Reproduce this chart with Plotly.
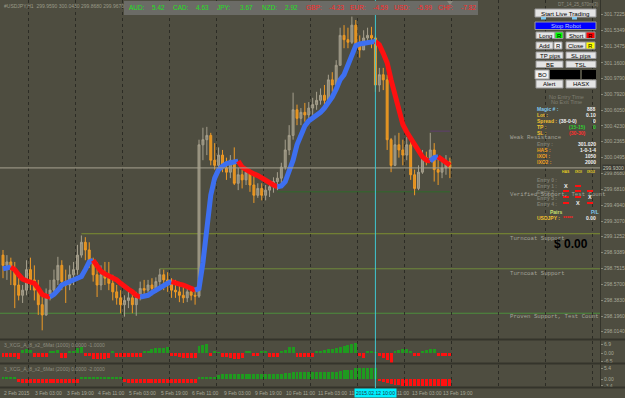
import plotly.graph_objects as go

W, H = 625, 398
BG = '#4e4d40'
FG = '#a8a898'
FONT = 'Liberation Sans'
MONO = 'Liberation Mono'

# ---------------- data ----------------
HOURS = list(range(0, 229, 2))          # 2-hour bars, trading-hour index from 2 Feb 11:00
FIRST_OPEN = 298.91
HIGH = [298.97, 298.91, 298.88, 298.83, 298.68, 298.56, 298.85, 298.88, 298.79, 298.62,
        298.44, 298.52, 298.62, 298.74, 298.89, 298.85, 298.74, 298.79, 298.83, 299.03,
        299.14, 299.12, 299.06, 298.88, 298.83, 298.79, 298.83, 298.83, 298.68, 298.56,
        298.50, 298.44, 298.54, 298.50, 298.48, 298.60, 298.62, 298.62, 298.64, 298.65,
        298.75, 298.74, 298.71, 298.64, 298.62, 298.56, 298.54, 298.52, 298.52, 298.50,
        300.26, 300.40, 300.41, 300.34, 300.22, 300.17, 300.14, 300.05, 300.08, 300.17,
        299.93, 299.91, 299.94, 299.91, 299.85, 299.75, 299.75, 299.73, 299.77, 299.82,
        299.88, 299.99, 300.26, 300.43, 300.81, 300.67, 300.63, 300.69, 300.70, 300.75,
        300.82, 300.86, 300.90, 301.02, 301.05, 301.19, 301.57, 301.60, 301.57, 301.70,
        301.66, 301.48, 301.54, 301.57, 301.58, 301.47, 301.10, 301.10, 301.02, 300.28,
        300.31, 300.34, 300.26, 300.29, 300.28, 299.91, 299.96, 300.14, 300.12, 300.34,
        300.22, 300.05, 300.02, 300.08, 300.05]
LOW = [298.64, 298.62, 298.56, 298.29, 298.38, 298.35, 298.44, 298.50, 298.38, 298.21,
       298.03, 298.20, 298.38, 298.44, 298.56, 298.50, 298.35, 298.50, 298.56, 298.68,
       298.88, 298.85, 298.76, 298.60, 298.42, 298.50, 298.56, 298.50, 298.38, 298.33,
       298.23, 298.19, 298.29, 298.23, 298.20, 298.38, 298.41, 298.47, 298.44, 298.47,
       298.52, 298.50, 298.48, 298.41, 298.41, 298.36, 298.35, 298.36, 298.38, 298.33,
       298.41, 300.02, 300.08, 299.96, 299.91, 299.93, 299.88, 299.79, 299.81, 299.73,
       299.67, 299.69, 299.73, 299.65, 299.52, 299.58, 299.55, 299.55, 299.59, 299.64,
       299.67, 299.73, 299.91, 300.08, 300.26, 300.43, 300.43, 300.47, 300.51, 300.55,
       300.61, 300.67, 300.67, 300.70, 300.82, 300.86, 301.13, 301.33, 301.33, 301.38,
       301.33, 301.22, 301.31, 301.37, 301.33, 300.82, 300.82, 300.84, 300.14, 299.88,
       299.95, 300.05, 299.96, 300.02, 299.79, 299.61, 299.67, 299.86, 299.96, 300.00,
       299.77, 299.73, 299.81, 299.85, 299.81]
CLOSE = [298.79, 298.83, 298.74, 298.56, 298.44, 298.50, 298.74, 298.62, 298.50, 298.33,
         298.21, 298.41, 298.50, 298.62, 298.79, 298.60, 298.56, 298.68, 298.74, 298.91,
         299.06, 298.97, 298.83, 298.68, 298.56, 298.68, 298.64, 298.58, 298.48, 298.41,
         298.33, 298.38, 298.41, 298.33, 298.41, 298.52, 298.50, 298.56, 298.52, 298.60,
         298.68, 298.62, 298.58, 298.50, 298.48, 298.44, 298.41, 298.48, 298.44, 298.43,
         300.20, 300.26, 300.31, 300.02, 299.96, 300.08, 299.93, 299.88, 300.02, 299.75,
         299.85, 299.79, 299.88, 299.73, 299.61, 299.69, 299.61, 299.67, 299.71, 299.77,
         299.81, 299.94, 300.14, 300.31, 300.61, 300.51, 300.58, 300.55, 300.63, 300.67,
         300.72, 300.78, 300.72, 300.96, 300.90, 301.13, 301.48, 301.43, 301.40, 301.60,
         301.37, 301.31, 301.45, 301.48, 301.45, 300.90, 301.02, 300.96, 300.26, 299.96,
         300.20, 300.14, 300.08, 300.20, 299.85, 299.69, 299.88, 300.05, 300.02, 300.14,
         299.91, 299.88, 299.93, 300.00, 299.93]
MA = [298.75, 298.76, 298.77, 298.74, 298.68, 298.63, 298.61, 298.60, 298.58, 298.52,
      298.45, 298.43, 298.42, 298.45, 298.50, 298.56, 298.58, 298.60, 298.62, 298.63,
      298.66, 298.74, 298.83, 298.85, 298.78, 298.72, 298.69, 298.67, 298.64, 298.62,
      298.58, 298.54, 298.51, 298.48, 298.44, 298.42, 298.43, 298.44, 298.47, 298.50,
      298.52, 298.56, 298.58, 298.60, 298.58, 298.57, 298.56, 298.54, 298.51, 298.50,
      298.52, 298.82, 299.26, 299.61, 299.81, 299.91, 299.95, 299.98, 299.99, 300.00,
      300.01, 299.94, 299.91, 299.88, 299.86, 299.84, 299.81, 299.78, 299.75, 299.73,
      299.71, 299.72, 299.77, 299.88, 300.02, 300.20, 300.30, 300.42, 300.48, 300.51,
      300.55, 300.58, 300.63, 300.69, 300.76, 300.85, 300.96, 301.02, 301.13, 301.26,
      301.36, 301.38, 301.39, 301.40, 301.40, 301.41, 301.37, 301.27, 301.16, 300.96,
      300.77, 300.61, 300.44, 300.35, 300.28, 300.21, 300.14, 300.06, 300.02, 300.01,
      300.05, 300.06, 300.03, 300.00, 299.96]
OSC1 = [-3, -3, -3, -3, -4.5, 2.5, 3, 2, -3, -3,
        -3, -3, 1.5, 1.5, 2, -3.5, -3.5, 1.5, 1.5, 4,
        4.5, -2.5, -2.5, -4.5, -4.5, -4.5, -4.5, -4, 1.5, -3,
        -3, -3, -3, -3, -3, -3, 1.5, 1.5, 3.5, 4,
        4, 4, 4.5, -2.5, -2.5, -3, -4, -4, -4, -4,
        5.5, 6.5, 7, -2, 1.5, 1, -3, -3, -3.5, -4.5,
        -4.5, -4, 1.5, 1.5, -2.5, -2.5, 1.5, 1.5, -3, -3,
        -3, 1.5, 2, 4.5, 5, -3, -3, -3, -3, -3,
        1.5, 1.5, 2.5, 3, 3.5, 4, 5, 5.5, 6, 7,
        7.5, -2.5, -3.5, 1.5, 1.5, 0.8, -2, -3.5, -5.5, -7.5,
        1.5, 2.5, 3, 3, 1.5, -2.5, -2.5, 1.5, 2, 3,
        3.5, -2.5, -2.5, -2.5, -2.5]
OSC2 = [0.8, 0.8, 0.8, 0.8, -1.5, -1.7, -1.7, -1.7, -1.7, -1.7,
        -1.7, -1.7, -1.7, -1.7, -1.7, -1.7, -1.7, -1.7, -1.7, -1.7,
        0.8, 0.8, 0.8, 0.8, 0.8, 0.8, 0.8, 0.8, 0.8, 0.8,
        0.8, -1.5, -1.7, -1.7, -1.7, -1.7, -1.7, -1.7, -1.7, -1.7,
        -1.7, -1.7, -1.7, -1.7, -1.7, -1.7, -1.7, -1.7, -1.7, -1.7,
        1.0, 1.0, 1.0, 1.0, 1.0, 2.2, 2.4, 2.4, 2.4, 2.4,
        2.4, 2.4, 2.4, 2.4, 2.4, 2.4, 2.4, 2.4, 2.4, 2.4,
        2.4, 2.6, 2.8, 3.0, 3.4, 3.4, 3.4, 3.4, 3.4, 3.4,
        3.4, 3.4, 3.4, 3.4, 3.4, 3.6, 3.8, 4.4, 4.4, 4.6,
        5.6, 5.6, 5.6, 5.6, 5.6, 5.6, -1.0, -1.5, -2.0, -2.5,
        -2.8, -3.0, -3.2, -3.4, -3.4, -3.4, -3.4, -3.4, -3.4, -3.4,
        -3.4, -3.4, -3.4, -3.4, -3.4]

PRICE_TICKS = [301.7225, 301.5349, 301.3475, 301.1600, 300.9790, 300.7920, 300.6050,
               300.4230, 300.2365, 300.0495, 299.8680, 299.6810, 299.4940, 299.3070,
               299.1252, 298.9389, 298.7515, 298.5700, 298.3830, 298.1960, 298.0140]
SUB1_TICKS = [6.9, 0.0, -6.5]
SUB1_TEXT = ['6.9', '0.00', '-6.5']
SUB2_TICKS = [5.4, 0.0, -3.4]
SUB2_TEXT = ['5.4', '0.00', '-3.4']
TIME_TICK_HOURS = [0, 16, 32, 48, 64, 80, 96, 112, 128, 144, 160, 176, 192, 208, 224]
TIME_LABELS = ['2 Feb 2015', '3 Feb 03:00', '3 Feb 19:00', '4 Feb 11:00', '5 Feb 03:00',
               '5 Feb 19:00', '6 Feb 11:00', '9 Feb 03:00', '9 Feb 19:00', '10 Feb 11:00',
               '11 Feb 03:00', '11 Feb 19:00', '12 Feb 11:00', '13 Feb 03:00', '13 Feb 19:00']
DAY_START_HOURS = [13, 37, 61, 85, 109, 133, 157, 181, 205, 229, 253, 277, 301]
CURSOR_HOUR = 190
CURSOR_LABEL = '2015.02.12 10:00'

# levels: (price, start hour, end hour or None=right edge, color)
LEVELS = [
    (299.16, 40, None, '#7d8f30'),
    (298.75, 80, None, '#6f8a3a'),
    (298.23, -2, None, '#4c8f3c'),
    (299.65, 140, 228, '#2f6a2a'),
    (300.36, 218, 228, '#5e3f6e'),
]

CURRENCIES = ['AUD', 'CAD', 'JPY', 'NZD', 'GBP', 'EUR', 'USD', 'CHF']
STRENGTH = [5.42, 4.63, 3.67, 2.92, -4.23, -4.59, -5.99, -7.82]

# ---------------- geometry helpers ----------------
X_MIN, X_MAX = -3 / 1.96, 597 / 1.96
PLOT_R = 600 / W


def px(x):
    return x / W


def py(y):
    return 1 - y / H


shapes = []
annotations = []


def rect(x0, y0, x1, y1, fill, line=None):
    shapes.append(dict(type='rect', xref='paper', yref='paper', x0=px(x0), x1=px(x1),
                       y0=py(y1), y1=py(y0), fillcolor=fill, layer='above',
                       line=dict(color=line if line else fill, width=1 if line else 0)))


def text(x, y, s, color, size=5, anchor='left', family=FONT, bold=False):
    if bold:
        s = '<b>' + s + '</b>'
    annotations.append(dict(xref='paper', yref='paper', x=px(x), y=py(y), text=s,
                            showarrow=False, xanchor=anchor, yanchor='middle', borderpad=0,
                            font=dict(family=family, size=size, color=color)))


def button(x0, y0, x1, y1, label, fill='#e4e4e4', color='#000000', size=6):
    rect(x0, y0, x1, y1, fill, '#9a9a9a')
    text((x0 + x1) / 2, (y0 + y1) / 2 + 0.3, label, color, size=size, anchor='center')


fig = go.Figure()

# ---------------- main price pane ----------------
OPEN = [FIRST_OPEN] + CLOSE[:-1]
fig.add_trace(go.Candlestick(
    x=HOURS, open=OPEN, high=HIGH, low=LOW, close=CLOSE, xaxis='x', yaxis='y',
    whiskerwidth=0,
    increasing=dict(line=dict(color='#a59f8c', width=1), fillcolor='#8f8a78'),
    decreasing=dict(line=dict(color='#ee9a26', width=1), fillcolor='#e0901c'),
    hoverinfo='skip'))

# moving average coloured by direction, drawn as runs
runs = []
for i in range(len(MA) - 1):
    col = '#3d6ff0' if MA[i + 1] >= MA[i] else '#ff1010'
    if runs and runs[-1][0] == col:
        runs[-1][1].append(i + 1)
    else:
        runs.append([col, [i, i + 1]])
for col, idx in runs:
    fig.add_trace(go.Scatter(x=[HOURS[k] for k in idx], y=[MA[k] for k in idx],
                             mode='lines', line=dict(color=col, width=5),
                             xaxis='x', yaxis='y', hoverinfo='skip'))

# level lines
for price, h0, h1, col in LEVELS:
    shapes.append(dict(type='line', xref='x', yref='y', x0=h0, x1=h1 if h1 is not None else X_MAX,
                       y0=price, y1=price, line=dict(color=col, width=1), layer='below'))
# current price line
shapes.append(dict(type='line', xref='x', yref='y', x0=X_MIN, x1=X_MAX, y0=CLOSE[-1], y1=CLOSE[-1],
                   line=dict(color='#a8a290', width=1), layer='above'))

# ---------------- indicator panes ----------------
fig.add_trace(go.Bar(x=HOURS, y=OSC1, xaxis='x2', yaxis='y2', width=1.5,
                     marker=dict(color=['#1f9a1f' if v > 0 else '#ff1010' for v in OSC1], line=dict(width=0)),
                     hoverinfo='skip'))
fig.add_trace(go.Bar(x=HOURS, y=OSC2, xaxis='x3', yaxis='y3', width=1.5,
                     marker=dict(color=['#1f9a1f' if v > 0 else '#ff1010' for v in OSC2], line=dict(width=0)),
                     hoverinfo='skip'))

# pane separators and frame
for yy in (339.5, 363.5, 387.5):
    shapes.append(dict(type='line', xref='paper', yref='paper', x0=0, x1=1, y0=py(yy), y1=py(yy),
                       line=dict(color='#34342b', width=2), layer='above'))
shapes.append(dict(type='line', xref='paper', yref='paper', x0=px(600.5), x1=px(600.5), y0=py(388), y1=1,
                   line=dict(color='#34342b', width=1), layer='above'))

# cursor line
shapes.append(dict(type='line', xref='x', yref='paper', x0=CURSOR_HOUR, x1=CURSOR_HOUR, y0=py(388), y1=1,
                   line=dict(color='#3fc8d0', width=1), layer='above'))

# time labels
for h, lab in zip(TIME_TICK_HOURS, TIME_LABELS):
    annotations.append(dict(xref='x3', yref='paper', x=h, y=py(392.5), text=lab, showarrow=False,
                            xanchor='left', yanchor='middle', borderpad=0,
                            font=dict(family=FONT, size=5, color=FG)))
annotations.append(dict(xref='x3', yref='paper', x=CURSOR_HOUR, y=py(392.5), text=CURSOR_LABEL,
                        showarrow=False, xanchor='center', yanchor='middle', bgcolor='#00f0ff',
                        borderpad=1, font=dict(family=FONT, size=5, color='#203040')))

# current price tag on the axis
annotations.append(dict(xref='paper', yref='y', x=px(602), y=CLOSE[-1], text=f'{CLOSE[-1]:.4f}',
                        showarrow=False, xanchor='left', yanchor='middle', bgcolor='#3a3a33',
                        borderpad=0, font=dict(family=FONT, size=5, color='#c8c8b8')))

# indicator titles
text(3, 345, '3_XCG_A_8_x2_6Mat (1000) 0.0000 -1.0000', '#8e8e80', size=5)
text(3, 369, '3_XCG_A_8_x2_6Mat (2000) 0.0000 -2.0000', '#8e8e80', size=5)

# header
text(3, 6, '#USDJPY,H1  299.9590 300.0430 299.8680 299.9670', '#9a9a88', size=5)
rect(124, 1, 478, 15, '#6b6b66')
for i, (c, v) in enumerate(zip(CURRENCIES, STRENGTH)):
    col = '#22e022' if v > 0 else '#ff2a2a'
    x0 = 128 + 44.2 * i
    text(x0, 8, c + ':', col, size=6.5)
    text(x0 + 23, 8, f'{v:.2f}', col, size=6.5)
shapes.append(dict(type='path', xref='paper', yref='paper',
                   path=f'M {px(447)},{py(1)} L {px(453)},{py(1)} L {px(450)},{py(5)} Z',
                   fillcolor='#8a8a80', line=dict(width=0), layer='above'))
text(578, 4, 'DT_14_25_670m(3)', '#8e8e80', size=4.5, anchor='center')

# ---------------- trading panel ----------------
button(535, 9, 596, 17, 'Start Live Trading', size=6.2)
rect(541, 17, 546, 19.5, '#7ec8f0')
rect(572, 17, 577, 19.5, '#7ec8f0')
button(535, 22, 596, 29.5, 'Stop Robot', fill='#0000ff', color='#b8c8ff')
button(536, 32, 555, 38.5, 'Long')
button(555, 32, 563, 38.5, 'R', fill='#00ff00')
button(566, 32, 586, 38.5, 'Short')
button(586, 32, 595, 38.5, 'R', fill='#ff0000')
button(536, 42, 553, 49, 'Add')
button(554, 42, 562, 49, 'R', fill='#f4f4f4')
button(566, 42, 586, 49, 'Close')
button(586, 42, 595, 49, 'R', fill='#ffff00')
button(536, 52, 563, 58.5, 'TP pips')
button(566, 52, 596, 58.5, 'SL pips')
button(536, 61, 563, 67.5, 'BE')
button(566, 61, 596, 67.5, 'TSL')
button(535, 70, 549, 79, 'BO', fill='#f0f0f0')
rect(550, 70, 580, 79, '#000000')
rect(582, 70, 596, 79, '#000000')
button(536, 80, 563, 88, 'Alert')
button(566, 80, 596, 88, 'HASX')

DIM = '#7e7e72'
WHITE = '#f0f0f0'
YEL = '#f0c030'
ORG = '#f0a020'
S = 5
text(566, 97, 'No Entry Time', DIM, size=5.5, anchor='center')
text(566, 102.5, 'No Exit Time', DIM, size=5.5, anchor='center')
text(536, 109, 'Magic # :', '#80c8f0', size=S, bold=True)
text(597, 109, '888', WHITE, size=S, anchor='right', bold=True)
text(536, 115, 'Lot :', YEL, size=S, bold=True)
text(597, 115, '0.10', WHITE, size=S, anchor='right', bold=True)
text(536, 121, 'Spread :', YEL, size=S, bold=True)
text(558, 121, '(38-0-0)', WHITE, size=S, bold=True)
text(597, 121, '0', WHITE, size=S, anchor='right', bold=True)
text(536, 127, 'TP :', YEL, size=S, bold=True)
text(568, 127, '(15-15)', '#30d030', size=S, bold=True)
text(597, 127, '0', '#30d030', size=S, anchor='right', bold=True)
text(536, 133, 'SL :', YEL, size=S, bold=True)
text(568, 133, '(30-30)', '#ff3030', size=S, bold=True)
text(509, 137.5, 'Weak Resistance', '#a4a49a', size=5.7, family=MONO)
text(536, 144, 'Entry :', DIM, size=S, bold=True)
text(597, 144, '301.020', WHITE, size=S, anchor='right', bold=True)
text(536, 150, 'HAS :', ORG, size=S, bold=True)
text(597, 150, '1-0-1-4', WHITE, size=S, anchor='right', bold=True)
text(536, 156, 'IXOI :', ORG, size=S, bold=True)
text(597, 156, '1050', WHITE, size=S, anchor='right', bold=True)
text(536, 162, 'IXO2 :', ORG, size=S, bold=True)
text(597, 162, '2000', WHITE, size=S, anchor='right', bold=True)
text(566, 171.5, 'HAS', '#e8d020', size=3.5, anchor='center', bold=True)
text(578, 171.5, 'IXOI', '#e8d020', size=3.5, anchor='center', bold=True)
text(591, 171.5, 'IXO2', '#e8d020', size=3.5, anchor='center', bold=True)
text(536, 180, 'Entry 0 :', DIM, size=S, bold=True)
text(536, 186, 'Entry 1 :', DIM, size=S, bold=True)
text(536, 192, 'Entry 2 :', DIM, size=S, bold=True)
text(536, 198, 'Entry 3 :', DIM, size=S, bold=True)
text(536, 204, 'Entry 4 :', DIM, size=S, bold=True)
text(509, 195, 'Verified Support, Test Count', '#a4a49a', size=5.7, family=MONO)
ENTRY_MARKS = [(186, 'X', '-', None), (191, '-', '-', '-'), (197, '-', '-', 'X'), (203, '-', 'X', '-')]
for yy, a, b, c in ENTRY_MARKS:
    for xx, m in ((566, a), (578, b), (590, c)):
        if m == 'X':
            text(xx, yy, 'X', WHITE, size=5.5, anchor='center', bold=True)
        elif m == '-':
            rect(xx - 3, yy - 1, xx + 3, yy + 1, '#ff1010')
text(556, 212, 'Pairs', '#c8e070', size=S, anchor='center', bold=True)
text(595, 212, 'P/L', '#80c8f0', size=S, anchor='center', bold=True)
text(536, 218, 'USDJPY :', YEL, size=S, bold=True)
text(562, 218, '*****', '#ff2020', size=S, bold=True)
text(597, 218, '0.00', WHITE, size=S, anchor='right', bold=True)
text(571, 244, '$ 0.00', '#000000', size=12, anchor='center', bold=True)
text(509, 238, 'Turncoat Support', '#a4a49a', size=5.7, family=MONO)
text(509, 273, 'Turncoat Support', '#a4a49a', size=5.7, family=MONO)
text(509, 316, 'Proven Support, Test Count', '#a4a49a', size=5.7, family=MONO)

# ---------------- layout ----------------
xcommon = dict(domain=[0, PLOT_R], range=[X_MIN, X_MAX], showticklabels=False, tickmode='array',
               tickvals=DAY_START_HOURS, showgrid=True, gridcolor='#2c2c25', griddash='dot',
               gridwidth=1, zeroline=False, showline=False, ticks='', fixedrange=True)
ycommon = dict(side='right', showgrid=False, zeroline=False, showline=False, ticks='outside',
               ticklen=2, tickcolor='#8a8a7a', automargin=False, fixedrange=True,
               tickfont=dict(family=FONT, size=5, color=FG))

fig.update_layout(
    width=W, height=H, margin=dict(l=0, r=0, t=0, b=0, pad=0),
    paper_bgcolor=BG, plot_bgcolor=BG, showlegend=False, hovermode=False,
    xaxis=dict(xcommon, anchor='y', rangeslider=dict(visible=False)),
    xaxis2=dict(xcommon, anchor='y2', matches='x'),
    xaxis3=dict(xcommon, anchor='y3', matches='x'),
    yaxis=dict(ycommon, domain=[py(339), 1], range=[301.894 - 0.011697 * 339, 301.894], anchor='x',
               tickvals=PRICE_TICKS, ticktext=[f'{v:.4f}' for v in PRICE_TICKS]),
    yaxis2=dict(ycommon, domain=[py(363), py(341)], range=[-7.8, 9.4], anchor='x2',
                tickvals=SUB1_TICKS, ticktext=SUB1_TEXT),
    yaxis3=dict(ycommon, domain=[py(387), py(365)], range=[-3.9, 6.9], anchor='x3',
                tickvals=SUB2_TICKS, ticktext=SUB2_TEXT),
    shapes=shapes, annotations=annotations, bargap=0,
)

fig.write_html('out.html', config=dict(displayModeBar=False, staticPlot=True))
